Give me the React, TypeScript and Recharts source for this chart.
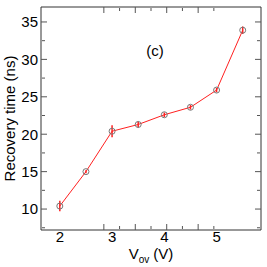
import React from "react";
import { ComposedChart, Line, XAxis, YAxis, ErrorBar } from "recharts";

const vov = [2, 2.5, 3, 3.5, 4, 4.5, 5, 5.5];
const recovery = [10.4, 15.0, 20.4, 21.3, 22.6, 23.6, 25.9, 33.9];
const recoveryErr = [0.7, 0.2, 0.8, 0.4, 0.3, 0.3, 0.3, 0.5];

const xMajor = [2, 3, 4, 5];
const xMinor = [2.5, 3.5, 4.5, 5.5];
const yMajor = [10, 15, 20, 25, 30, 35];
const yMinor = [7.5, 12.5, 17.5, 22.5, 27.5, 32.5];

const X_DOMAIN: [number, number] = [1.64, 5.85];
const Y_DOMAIN: [number, number] = [7.2, 37];

const data = vov.map((v, i) => ({ v, t: recovery[i], err: recoveryErr[i] }));

const FONT = "Liberation Sans, Arial, Helvetica, sans-serif";
const FRAME = "#333";
const TICK = "#555";

// tick lines only, no labels
const noLabel = () => <g />;

function XTitle(props: any) {
  const { viewBox } = props;
  const cx = viewBox.x + viewBox.width / 2;
  return (
    <text x={cx} y={259} textAnchor="middle" fontSize={15} fontFamily={FONT} fill="#000">
      <tspan>V</tspan>
      <tspan dy={4} fontSize={10}>ov</tspan>
      <tspan dy={-4}> (V)</tspan>
    </text>
  );
}

function YTitle(props: any) {
  const { viewBox } = props;
  const cy = viewBox.y + viewBox.height / 2;
  return (
    <text
      x={15}
      y={cy}
      transform={`rotate(-90, 15, ${cy})`}
      textAnchor="middle"
      fontSize={15}
      fontFamily={FONT}
      fill="#000"
    >
      Recovery time (ns)
    </text>
  );
}

export default function App() {
  return (
    <div style={{ position: "absolute", left: 0, top: 0, background: "#fff" }}>
      <ComposedChart width={267} height={267} data={data} margin={{ top: 7, right: 6, left: 0, bottom: 0 }}>
        {/* labelled axes */}
        <XAxis
          xAxisId="b"
          dataKey="v"
          type="number"
          domain={X_DOMAIN}
          ticks={xMajor}
          allowDataOverflow
          height={37}
          tickLine={false}
          tickSize={1}
          tickMargin={0}
          axisLine={{ stroke: FRAME }}
          tick={{ fontSize: 15, fill: "#000", fontFamily: FONT }}
          label={<XTitle />}
        />
        <YAxis
          yAxisId="l"
          type="number"
          domain={Y_DOMAIN}
          ticks={yMajor}
          allowDataOverflow
          width={41}
          tickLine={false}
          tickSize={3}
          tickMargin={0}
          axisLine={{ stroke: FRAME }}
          tick={{ fontSize: 15, fill: "#000", fontFamily: FONT }}
          label={<YTitle />}
        />
        {/* inward ticks on all four sides */}
        <XAxis xAxisId="bMaj" height={1} type="number" domain={X_DOMAIN} ticks={xMajor} allowDataOverflow mirror tick={noLabel} tickSize={6} axisLine={false} tickLine={{ stroke: TICK }} />
        <XAxis xAxisId="bMin" height={1} type="number" domain={X_DOMAIN} ticks={xMinor} allowDataOverflow mirror tick={noLabel} tickSize={3} axisLine={false} tickLine={{ stroke: TICK }} />
        <XAxis xAxisId="tMaj" height={1} orientation="top" type="number" domain={X_DOMAIN} ticks={xMajor} allowDataOverflow mirror tick={noLabel} tickSize={6} axisLine={{ stroke: FRAME }} tickLine={{ stroke: TICK }} />
        <XAxis xAxisId="tMin" height={1} orientation="top" type="number" domain={X_DOMAIN} ticks={xMinor} allowDataOverflow mirror tick={noLabel} tickSize={3} axisLine={false} tickLine={{ stroke: TICK }} />
        <YAxis yAxisId="lMaj" width={1} type="number" domain={Y_DOMAIN} ticks={yMajor} allowDataOverflow mirror tick={noLabel} tickSize={6} axisLine={false} tickLine={{ stroke: TICK }} />
        <YAxis yAxisId="lMin" width={1} type="number" domain={Y_DOMAIN} ticks={yMinor} allowDataOverflow mirror tick={noLabel} tickSize={3} axisLine={false} tickLine={{ stroke: TICK }} />
        <YAxis yAxisId="rMaj" width={1} orientation="right" type="number" domain={Y_DOMAIN} ticks={yMajor} allowDataOverflow mirror tick={noLabel} tickSize={6} axisLine={{ stroke: FRAME }} tickLine={{ stroke: TICK }} />
        <YAxis yAxisId="rMin" width={1} orientation="right" type="number" domain={Y_DOMAIN} ticks={yMinor} allowDataOverflow mirror tick={noLabel} tickSize={3} axisLine={false} tickLine={{ stroke: TICK }} />
        <Line
          xAxisId="b"
          yAxisId="l"
          dataKey="t"
          stroke="#ff2020"
          strokeWidth={1}
          dot={{ r: 3, stroke: "#777", strokeWidth: 1, fill: "none" }}
          isAnimationActive={false}
        >
          <ErrorBar dataKey="err" direction="y" width={0} stroke="#ff2020" strokeWidth={1.5} />
        </Line>
        <text x={155} y={56} textAnchor="middle" fontSize={15} fontFamily={FONT} fill="#000">
          (c)
        </text>
      </ComposedChart>
    </div>
  );
}
